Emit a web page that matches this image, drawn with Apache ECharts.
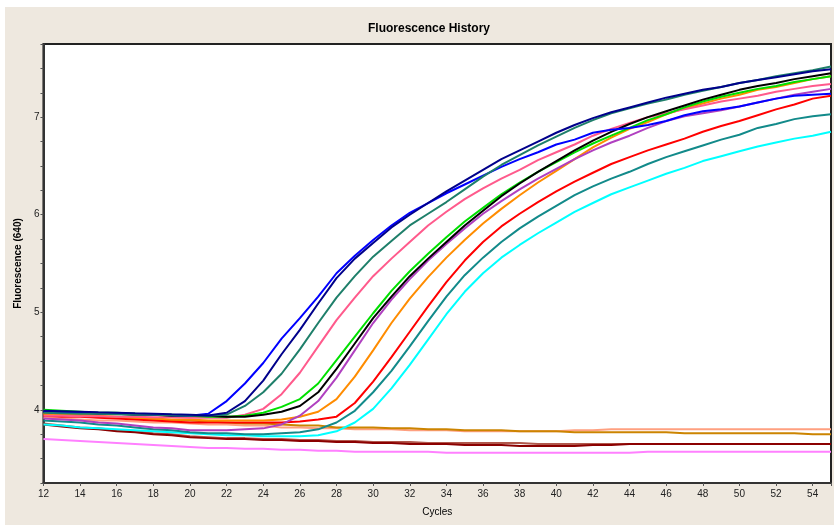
<!DOCTYPE html>
<html>
<head>
<meta charset="utf-8">
<title>Fluorescence History</title>
<script src="https://cdn.jsdelivr.net/npm/echarts@6/dist/echarts.min.js"></script>
<style>
  html, body { margin: 0; padding: 0; background: #fff; }
  #panel { position: absolute; left: 5px; top: 7px; width: 829px; height: 518px; background: #eee8df; }
</style>
</head>
<body>
<div id="panel"></div>
<script>
// cycles on x
var cycles = [12,13,14,15,16,17,18,19,20,21,22,23,24,25,26,27,28,29,30,31,32,33,34,35,36,37,38,39,40,41,42,43,44,45,46,47,48,49,50,51,52,53,54,55];
var yTickLabels = {4: '4', 5: '5', 6: '6', 7: '7'};

// amplification curves
var navy = [3.99,3.985,3.98,3.974,3.97,3.964,3.96,3.954,3.95,3.943,3.97,4.09,4.30,4.57,4.82,5.09,5.35,5.55,5.71,5.87,6.00,6.12,6.24,6.35,6.46,6.57,6.66,6.75,6.84,6.92,6.99,7.05,7.10,7.15,7.20,7.24,7.28,7.31,7.35,7.38,7.41,7.44,7.47,7.49];
var blue = [3.98,3.975,3.97,3.965,3.96,3.955,3.95,3.945,3.94,3.96,4.09,4.27,4.48,4.73,4.94,5.16,5.40,5.58,5.74,5.89,6.02,6.12,6.22,6.31,6.40,6.49,6.57,6.64,6.72,6.77,6.84,6.87,6.89,6.92,6.96,7.02,7.06,7.08,7.11,7.15,7.19,7.22,7.23,7.24];
var seaGreen = [3.97,3.965,3.96,3.96,3.955,3.95,3.95,3.945,3.94,3.94,3.95,4.04,4.18,4.37,4.62,4.89,5.15,5.37,5.57,5.73,5.89,6.01,6.13,6.26,6.39,6.51,6.61,6.71,6.80,6.89,6.97,7.04,7.09,7.14,7.18,7.23,7.27,7.31,7.35,7.38,7.42,7.45,7.48,7.52];
var pink = [3.94,3.94,3.935,3.935,3.93,3.93,3.925,3.925,3.92,3.92,3.92,3.95,4.01,4.16,4.38,4.65,4.92,5.15,5.37,5.55,5.72,5.89,6.03,6.16,6.27,6.37,6.46,6.56,6.64,6.72,6.81,6.88,6.94,7.00,7.04,7.08,7.12,7.16,7.19,7.22,7.26,7.29,7.32,7.34];
var green = [4.00,3.99,3.98,3.97,3.97,3.96,3.95,3.95,3.94,3.93,3.93,3.94,3.97,4.03,4.11,4.27,4.51,4.75,4.99,5.22,5.42,5.60,5.77,5.93,6.07,6.21,6.33,6.44,6.54,6.64,6.73,6.81,6.89,6.97,7.03,7.10,7.16,7.21,7.25,7.29,7.32,7.36,7.39,7.42];
var black = [3.98,3.97,3.97,3.96,3.96,3.95,3.95,3.94,3.94,3.94,3.93,3.93,3.95,3.98,4.04,4.18,4.42,4.68,4.94,5.16,5.37,5.55,5.72,5.89,6.04,6.19,6.32,6.44,6.55,6.66,6.76,6.85,6.93,7.00,7.06,7.12,7.18,7.23,7.28,7.32,7.35,7.39,7.42,7.45];
var purple = [3.91,3.90,3.89,3.87,3.86,3.84,3.82,3.81,3.79,3.79,3.79,3.80,3.81,3.85,3.94,4.09,4.33,4.61,4.89,5.13,5.34,5.53,5.70,5.86,6.01,6.14,6.26,6.37,6.47,6.57,6.66,6.74,6.81,6.89,6.96,7.01,7.04,7.07,7.11,7.15,7.19,7.23,7.26,7.29];
var orange = [3.96,3.95,3.95,3.94,3.93,3.92,3.91,3.90,3.90,3.89,3.89,3.89,3.89,3.90,3.93,3.98,4.11,4.34,4.61,4.89,5.14,5.36,5.56,5.74,5.91,6.06,6.20,6.33,6.45,6.57,6.69,6.79,6.88,6.95,7.03,7.09,7.14,7.19,7.23,7.28,7.31,7.35,7.39,7.42];
var red = [3.94,3.93,3.93,3.92,3.91,3.90,3.89,3.88,3.87,3.87,3.87,3.87,3.87,3.87,3.88,3.90,3.93,4.07,4.29,4.54,4.80,5.06,5.31,5.53,5.72,5.88,6.01,6.13,6.24,6.34,6.43,6.52,6.59,6.66,6.72,6.78,6.85,6.91,6.96,7.02,7.08,7.13,7.19,7.22];
var darkCyan = [3.89,3.88,3.87,3.85,3.84,3.82,3.80,3.79,3.77,3.76,3.76,3.75,3.75,3.76,3.77,3.80,3.87,3.99,4.18,4.40,4.65,4.91,5.16,5.38,5.56,5.72,5.86,5.98,6.09,6.20,6.29,6.37,6.44,6.52,6.59,6.65,6.71,6.77,6.82,6.89,6.93,6.98,7.01,7.03];
var cyan = [3.85,3.84,3.82,3.81,3.80,3.79,3.78,3.77,3.76,3.75,3.74,3.74,3.73,3.73,3.73,3.74,3.78,3.87,4.01,4.22,4.46,4.72,4.98,5.21,5.40,5.56,5.69,5.81,5.92,6.03,6.12,6.21,6.28,6.35,6.42,6.48,6.55,6.60,6.65,6.70,6.74,6.78,6.81,6.85];

// flat (negative) curves
var goldenrod = [3.96,3.95,3.94,3.93,3.92,3.91,3.90,3.89,3.89,3.88,3.87,3.86,3.86,3.85,3.84,3.84,3.82,3.82,3.82,3.81,3.81,3.80,3.80,3.79,3.79,3.79,3.78,3.78,3.78,3.77,3.77,3.77,3.77,3.77,3.77,3.76,3.76,3.76,3.76,3.76,3.76,3.76,3.75,3.75];
var salmon = [3.92,3.91,3.90,3.89,3.89,3.88,3.87,3.87,3.86,3.85,3.85,3.84,3.84,3.82,3.82,3.81,3.81,3.80,3.80,3.80,3.79,3.79,3.79,3.78,3.78,3.78,3.78,3.78,3.78,3.79,3.79,3.80,3.80,3.80,3.80,3.80,3.80,3.80,3.80,3.80,3.80,3.80,3.80,3.80];
var darkRed = [3.85,3.83,3.81,3.80,3.78,3.77,3.75,3.74,3.72,3.71,3.70,3.70,3.69,3.69,3.68,3.68,3.67,3.67,3.66,3.66,3.65,3.65,3.65,3.64,3.64,3.64,3.63,3.63,3.63,3.63,3.64,3.64,3.65,3.65,3.65,3.65,3.65,3.65,3.65,3.65,3.65,3.65,3.65,3.65];
var brown = [3.86,3.84,3.82,3.81,3.79,3.78,3.76,3.75,3.73,3.72,3.71,3.71,3.70,3.70,3.69,3.69,3.68,3.68,3.67,3.67,3.67,3.66,3.66,3.66,3.66,3.66,3.66,3.65,3.65,3.65,3.65,3.65,3.65,3.65,3.65,3.65,3.65,3.65,3.65,3.65,3.65,3.65,3.65,3.65];
var violet = [3.70,3.69,3.68,3.67,3.66,3.65,3.64,3.63,3.62,3.61,3.61,3.60,3.60,3.59,3.59,3.58,3.58,3.57,3.57,3.57,3.57,3.57,3.56,3.56,3.56,3.56,3.56,3.56,3.56,3.56,3.56,3.56,3.56,3.57,3.57,3.57,3.57,3.57,3.57,3.57,3.57,3.57,3.57,3.57];

var curves = [
  {name: 'violet', color: '#ff80ff', data: violet},
  {name: 'brown', color: '#b0584c', data: brown},
  {name: 'darkRed', color: '#8b0000', data: darkRed},
  {name: 'salmon', color: '#ffa080', data: salmon},
  {name: 'goldenrod', color: '#cc8400', data: goldenrod},
  {name: 'cyan', color: '#00ffff', data: cyan},
  {name: 'darkCyan', color: '#128a8a', data: darkCyan},
  {name: 'red', color: '#ff0000', data: red},
  {name: 'orange', color: '#ff8c00', data: orange},
  {name: 'purple', color: '#b040c0', data: purple},
  {name: 'pink', color: '#ff5a8c', data: pink},
  {name: 'green', color: '#00e000', data: green},
  {name: 'black', color: '#000000', data: black},
  {name: 'blue', color: '#0000ff', data: blue},
  {name: 'seaGreen', color: '#1e7f6a', data: seaGreen},
  {name: 'navy', color: '#00008b', data: navy}
];

var chart = echarts.init(document.getElementById('panel'));

var series = curves.map(function (c) {
  return {
    name: c.name,
    type: 'line',
    showSymbol: false,
    smooth: false,
    lineStyle: {color: c.color, width: 2},
    data: cycles.map(function (x, i) { return [x, c.data[i]]; })
  };
});

var option = {
  animation: false,
  backgroundColor: '#eee8df',
  title: {
    text: 'Fluorescence History',
    left: 419,
    textAlign: 'center',
    top: 11,
    textStyle: {fontFamily: 'Liberation Sans', fontSize: 12, fontWeight: 'bold', color: '#000'}
  },
  grid: {
    left: 36, right: 2, top: 37, bottom: 42,
    show: true, backgroundColor: '#fff', borderColor: '#222', borderWidth: 2
  },
  xAxis: {
    type: 'value',
    min: 12, max: 55, interval: 2,
    name: 'Cycles', nameLocation: 'middle', nameGap: 24,
    nameTextStyle: {fontFamily: 'Liberation Sans', fontSize: 10, color: '#000'},
    axisLine: {lineStyle: {color: '#333', width: 2}},
    axisTick: {length: 3, lineStyle: {color: '#555'}},
    axisLabel: {
      fontFamily: 'Liberation Sans', fontSize: 10, color: '#222', margin: 6,
      formatter: function (v) { return v <= 54 ? String(v) : ''; }
    },
    splitLine: {show: false}
  },
  yAxis: {
    type: 'value',
    min: 3.25, max: 7.75, interval: 0.25,
    name: 'Fluorescence (640)', nameLocation: 'middle', nameGap: 18,
    nameTextStyle: {fontFamily: 'Liberation Sans', fontSize: 10, fontWeight: 'bold', color: '#000'},
    axisLine: {show: true, lineStyle: {color: '#333', width: 2}},
    axisTick: {length: 3, lineStyle: {color: '#555'}},
    axisLabel: {
      fontFamily: 'Liberation Sans', fontSize: 10, color: '#222', margin: 4,
      formatter: function (v) { return yTickLabels[v] || ''; }
    },
    splitLine: {show: false}
  },
  series: series
};

chart.setOption(option);
</script>
</body>
</html>
